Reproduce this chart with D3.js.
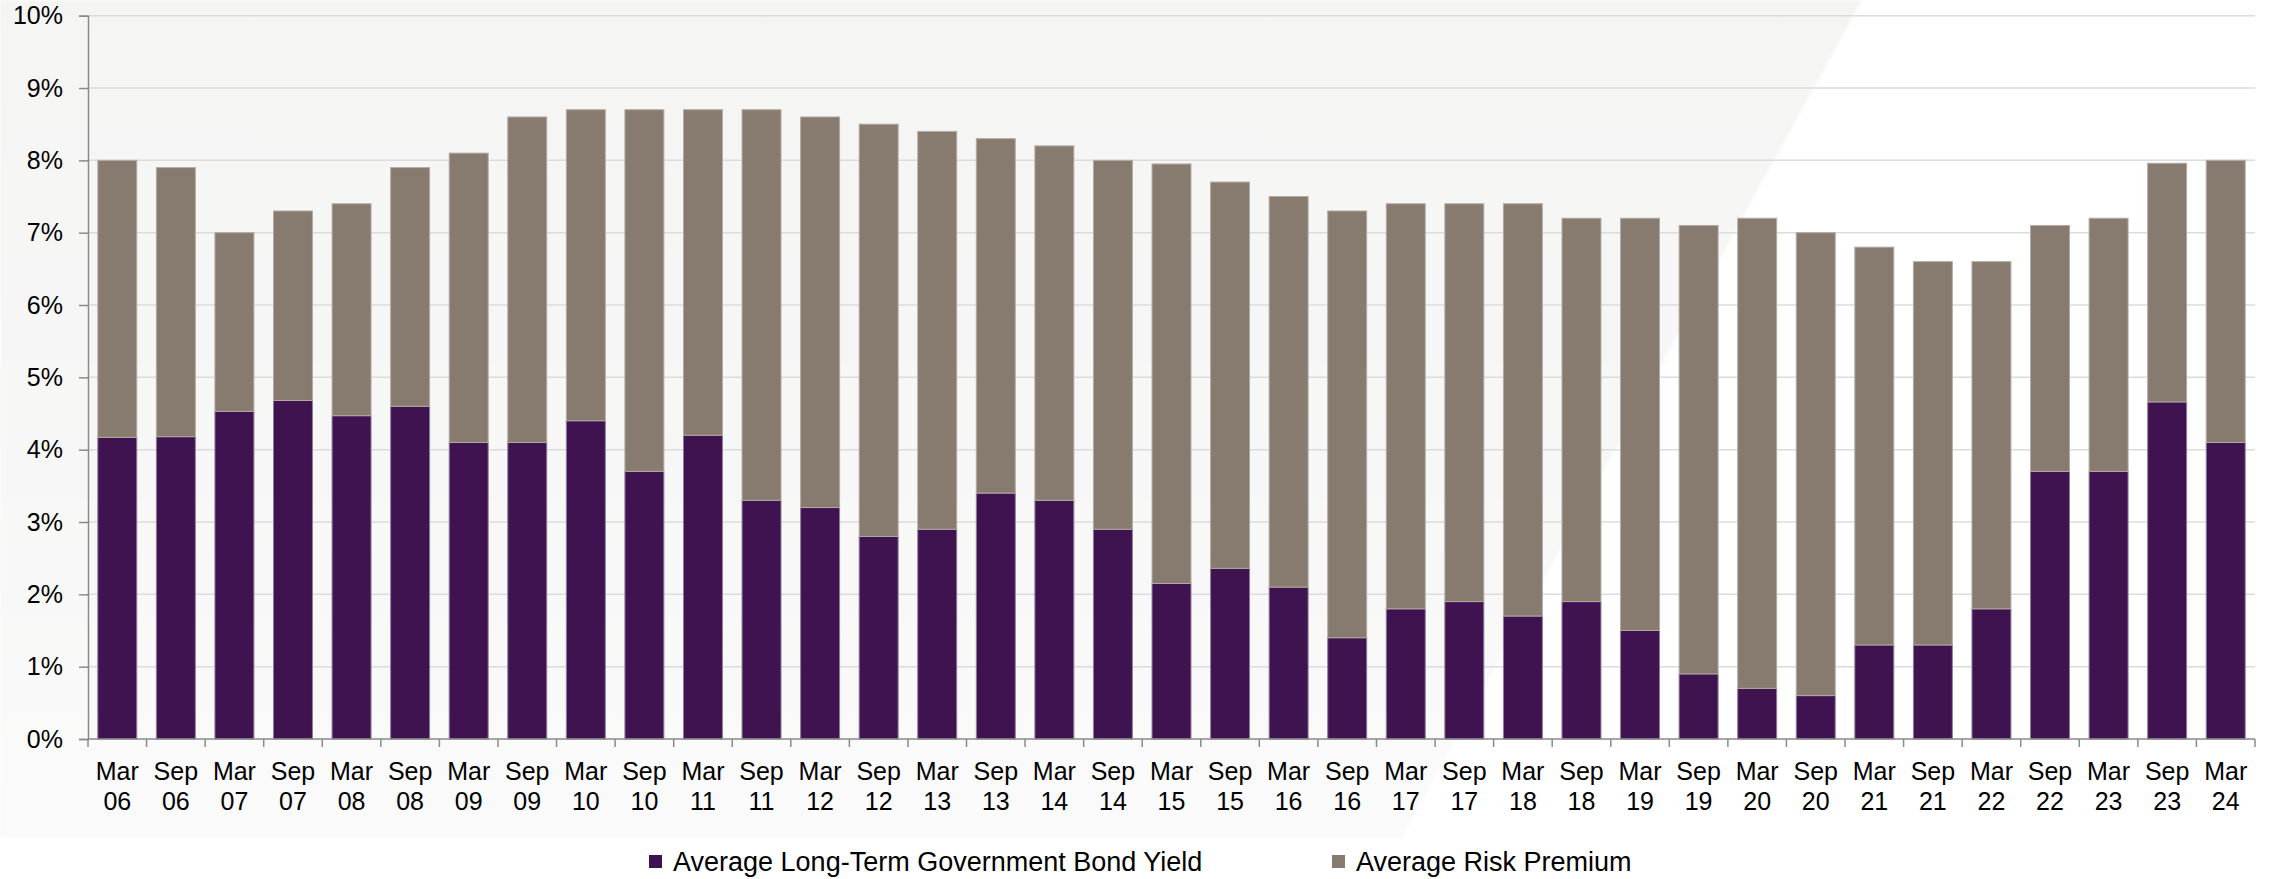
<!DOCTYPE html>
<html>
<head>
<meta charset="utf-8">
<script src="https://cdn.jsdelivr.net/npm/d3@7"></script>
<style>
  html, body { margin: 0; padding: 0; background: #ffffff; }
  svg { display: block; font-family: "Liberation Sans", Arial, sans-serif; }
</style>
</head>
<body>
<svg id="chart" width="2272" height="879"></svg>
<script>
// Half-year periods
const categories = [
  "Mar 06","Sep 06","Mar 07","Sep 07","Mar 08","Sep 08","Mar 09","Sep 09",
  "Mar 10","Sep 10","Mar 11","Sep 11","Mar 12","Sep 12","Mar 13","Sep 13",
  "Mar 14","Sep 14","Mar 15","Sep 15","Mar 16","Sep 16","Mar 17","Sep 17",
  "Mar 18","Sep 18","Mar 19","Sep 19","Mar 20","Sep 20","Mar 21","Sep 21",
  "Mar 22","Sep 22","Mar 23","Sep 23","Mar 24"
];

// Average long-term government bond yield (%)
const bondYield = [
  4.17, 4.18, 4.53, 4.68, 4.47, 4.60, 4.10, 4.10,
  4.40, 3.70, 4.20, 3.30, 3.20, 2.80, 2.90, 3.40,
  3.30, 2.90, 2.15, 2.36, 2.10, 1.40, 1.80, 1.90,
  1.70, 1.90, 1.50, 0.90, 0.70, 0.60, 1.30, 1.30,
  1.80, 3.70, 3.70, 4.66, 4.10
];

// Average risk premium (%)
const riskPremium = [
  3.83, 3.72, 2.47, 2.62, 2.93, 3.30, 4.00, 4.50,
  4.30, 5.00, 4.50, 5.40, 5.40, 5.70, 5.50, 4.90,
  4.90, 5.10, 5.80, 5.34, 5.40, 5.90, 5.60, 5.50,
  5.70, 5.30, 5.70, 6.20, 6.50, 6.40, 5.50, 5.30,
  4.80, 3.40, 3.50, 3.30, 3.90
];

const seriesNames = ["Average Long-Term Government Bond Yield", "Average Risk Premium"];
const seriesColors = ["#3e1350", "#877b6f"];
const seriesStrokes = ["#8e7b9c", "#b3aaa2"];

const yTicks = [0, 1, 2, 3, 4, 5, 6, 7, 8, 9, 10];

const svg = d3.select("#chart");
const W = 2272, H = 879;
const plotLeft = 88, plotRight = 2255, plotTop = 15.7, plotBottom = 739;

// Soft backdrop panel with a diagonal edge
const defs = svg.append("defs");
const grad = defs.append("linearGradient").attr("id", "panelGrad")
  .attr("x1", 0).attr("y1", 0).attr("x2", 0).attr("y2", 1);
grad.append("stop").attr("offset", "0%").attr("stop-color", "#f4f4f3");
grad.append("stop").attr("offset", "100%").attr("stop-color", "#fafafa");
defs.append("filter").attr("id", "soft")
  .append("feGaussianBlur").attr("stdDeviation", 1.5);

svg.append("rect").attr("width", W).attr("height", H).attr("fill", "#ffffff");
svg.append("path")
  .attr("d", "M0,0 L1862,0 L1402,838 L0,838 Z")
  .attr("fill", "url(#panelGrad)")
  .attr("filter", "url(#soft)");

// Scales
const x = d3.scaleBand()
  .domain(categories)
  .range([plotLeft, plotRight])
  .paddingInner(0.335)
  .paddingOuter(0.1675);

const y = d3.scaleLinear().domain([0, 10]).range([plotBottom, plotTop]);

// Horizontal gridlines
svg.append("g").selectAll("line")
  .data(yTicks.filter(d => d > 0))
  .join("line")
  .attr("x1", plotLeft).attr("x2", plotRight)
  .attr("y1", d => y(d)).attr("y2", d => y(d))
  .attr("stroke", "#dcdcdc")
  .attr("stroke-width", 1.5);

// Stacked bars
const rows = categories.map((c, i) => ({ cat: c, bond: bondYield[i], risk: riskPremium[i] }));
const stack = d3.stack().keys(["bond", "risk"]);
const layers = stack(rows);

svg.append("g").selectAll("g")
  .data(layers)
  .join("g")
  .attr("fill", (d, i) => seriesColors[i])
  .attr("stroke", (d, i) => seriesStrokes[i])
  .attr("stroke-width", 1)
  .selectAll("rect")
  .data(d => d)
  .join("rect")
  .attr("x", d => x(d.data.cat))
  .attr("width", x.bandwidth())
  .attr("y", d => y(d[1]))
  .attr("height", d => y(d[0]) - y(d[1]));

// Y axis
const yAxis = d3.axisLeft(y)
  .tickValues(yTicks)
  .tickFormat(d => d + "%")
  .tickSize(9)
  .tickPadding(16);

const gy = svg.append("g")
  .attr("transform", `translate(${plotLeft},0)`)
  .call(yAxis);
gy.select(".domain").attr("stroke", "#8a8a8a").attr("stroke-width", 1.5);
gy.selectAll(".tick line").attr("stroke", "#8a8a8a").attr("stroke-width", 1.5);
gy.selectAll(".tick text")
  .attr("fill", "#000")
  .attr("font-size", 25)
  .attr("font-family", "Liberation Sans, Arial, sans-serif");

// X axis line and boundary ticks
const step = x.step();
const gap = step - x.bandwidth();
const boundaries = categories.map(c => x(c) - gap / 2).concat([plotRight]);

svg.append("line")
  .attr("x1", plotLeft).attr("x2", plotRight)
  .attr("y1", plotBottom).attr("y2", plotBottom)
  .attr("stroke", "#8a8a8a").attr("stroke-width", 1.5);

svg.append("g").selectAll("line")
  .data(boundaries)
  .join("line")
  .attr("x1", d => d).attr("x2", d => d)
  .attr("y1", plotBottom).attr("y2", plotBottom + 8)
  .attr("stroke", "#8a8a8a").attr("stroke-width", 1.5);

// Two-line category labels
const xl = svg.append("g")
  .attr("font-size", 25)
  .attr("fill", "#000")
  .attr("text-anchor", "middle");
xl.selectAll("text")
  .data(categories)
  .join("text")
  .each(function (d) {
    const parts = d.split(" ");
    const cx = x(d) + x.bandwidth() / 2;
    const t = d3.select(this);
    t.append("tspan").attr("x", cx).attr("y", 780).text(parts[0]);
    t.append("tspan").attr("x", cx).attr("y", 810).text(parts[1]);
  });

// Legend
const legendItems = [
  { name: seriesNames[0], color: seriesColors[0], x: 649 },
  { name: seriesNames[1], color: seriesColors[1], x: 1332 }
];
const lg = svg.append("g");
const legendY = 862;
lg.selectAll("rect")
  .data(legendItems)
  .join("rect")
  .attr("x", d => d.x)
  .attr("y", legendY - 7)
  .attr("width", 13)
  .attr("height", 13)
  .attr("fill", d => d.color);
lg.selectAll("text")
  .data(legendItems)
  .join("text")
  .attr("x", d => d.x + 24)
  .attr("y", legendY)
  .attr("dy", "0.35em")
  .attr("font-size", 27)
  .attr("fill", "#000")
  .text(d => d.name);
</script>
</body>
</html>
